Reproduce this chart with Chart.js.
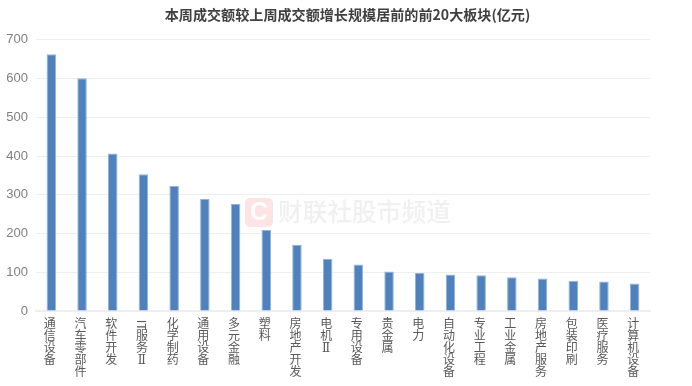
<!DOCTYPE html>
<html>
<head>
<meta charset="utf-8">
<style>
  html, body { margin: 0; padding: 0; background: #fff; }
  canvas { display: block; }
</style>
<script src="https://cdn.jsdelivr.net/npm/chart.js@4"></script>
</head>
<body>
<canvas id="sectorChart" width="692" height="386"></canvas>
<script>
const chartTitle = '本周成交额较上周成交额增长规模居前的前20大板块(亿元)';
const categories = ['通信设备', '汽车零部件', '软件开发', 'IT服务Ⅱ', '化学制药', '通用设备', '多元金融', '塑料', '房地产开发', '电机Ⅱ',
    '专用设备', '贵金属', '电力', '自动化设备', '专业工程', '工业金属', '房地产服务', '包装印刷', '医疗服务', '计算机设备'];
const values = [663, 601, 407, 353, 323, 289, 277, 209, 171, 135, 120, 102, 98, 94, 92, 87, 84, 78, 76, 71];
const yTicks = [0, 100, 200, 300, 400, 500, 600, 700];
const watermarkText = '财联社股市频道';

const cjk = '"Noto Sans CJK SC", sans-serif';

// labels stand upright, one character per line; "IT" is turned sideways separately
function stackLabel(name) {
    return name.replace('IT', ' ').split('');
}

const watermark = {
    id: 'watermark',
    beforeDatasetsDraw(chart) {
        const ctx = chart.ctx;
        ctx.save();
        ctx.fillStyle = '#fde3e4';
        ctx.beginPath();
        ctx.roundRect(245, 198, 28, 29, 5);
        ctx.fill();
        ctx.fillStyle = '#ffffff';
        ctx.font = 'bold 25px "Liberation Sans", sans-serif';
        ctx.textAlign = 'center';
        ctx.textBaseline = 'middle';
        ctx.fillText('C', 259, 213);
        ctx.fillStyle = '#f0f0f0';
        ctx.font = '500 24.7px ' + cjk;
        ctx.textAlign = 'left';
        ctx.fillText(watermarkText, 278, 212);
        ctx.restore();
    }
};

const sidewaysIT = {
    id: 'sidewaysIT',
    afterDraw(chart) {
        const ctx = chart.ctx;
        const x = chart.scales.x.getPixelForTick(categories.indexOf('IT服务Ⅱ')) - 1.5;
        ctx.save();
        ctx.translate(x, 325);
        ctx.rotate(Math.PI / 2);
        ctx.fillStyle = '#595959';
        ctx.font = '12px ' + cjk;
        ctx.textAlign = 'center';
        ctx.textBaseline = 'middle';
        ctx.fillText('IT', 0, 0);
        ctx.restore();
    }
};

// the title is centred on the whole picture, not on the padded layout box
const centreTitle = {
    id: 'centreTitle',
    afterLayout(chart) {
        chart.titleBlock.left = 0;
        chart.titleBlock.right = 695;
    }
};

const data = {
    labels: categories.map(stackLabel),
    datasets: [{
        data: values,
        backgroundColor: '#4f81bd',
        borderColor: '#95b3d7',
        borderWidth: { left: 1, right: 1, top: 1, bottom: 0 },
        barPercentage: 0.31,
        categoryPercentage: 1
    }]
};

const config = {
    type: 'bar',
    data: data,
    plugins: [watermark, sidewaysIT, centreTitle],
    options: {
        responsive: false,
        animation: false,
        devicePixelRatio: 1,
        layout: { padding: { top: 6, right: 42, left: 0, bottom: 0 } },
        plugins: {
            legend: { display: false },
            tooltip: { enabled: false },
            title: {
                display: true,
                text: chartTitle,
                color: '#404040',
                font: { family: cjk, size: 14.1, weight: 'bold' },
                padding: { top: 0, bottom: 17 }
            }
        },
        scales: {
            x: {
                grid: { display: false, drawTicks: false },
                border: { color: '#eeeeee', width: 2 },
                afterFit(scale) { scale.height = 75; },
                ticks: {
                    autoSkip: false,
                    maxRotation: 0,
                    minRotation: 0,
                    padding: 8,
                    labelOffset: -1.5,
                    color: '#595959',
                    font: { family: '"DejaVu Serif", ' + cjk, size: 12, lineHeight: 1 }
                }
            },
            y: {
                min: 0,
                max: 700,
                afterFit(scale) { scale.width = 36; },
                afterBuildTicks(scale) { scale.ticks = yTicks.map(v => ({ value: v })); },
                grid: { color: '#eeeeee', drawTicks: false },
                border: { display: false },
                ticks: {
                    padding: 8,
                    color: '#7f7f7f',
                    font: { family: '"Liberation Sans", sans-serif', size: 13 }
                }
            }
        }
    }
};

// eslint-disable-next-line
const sectorChart = new Chart(document.querySelector('#sectorChart'), config);
</script>
</body>
</html>
